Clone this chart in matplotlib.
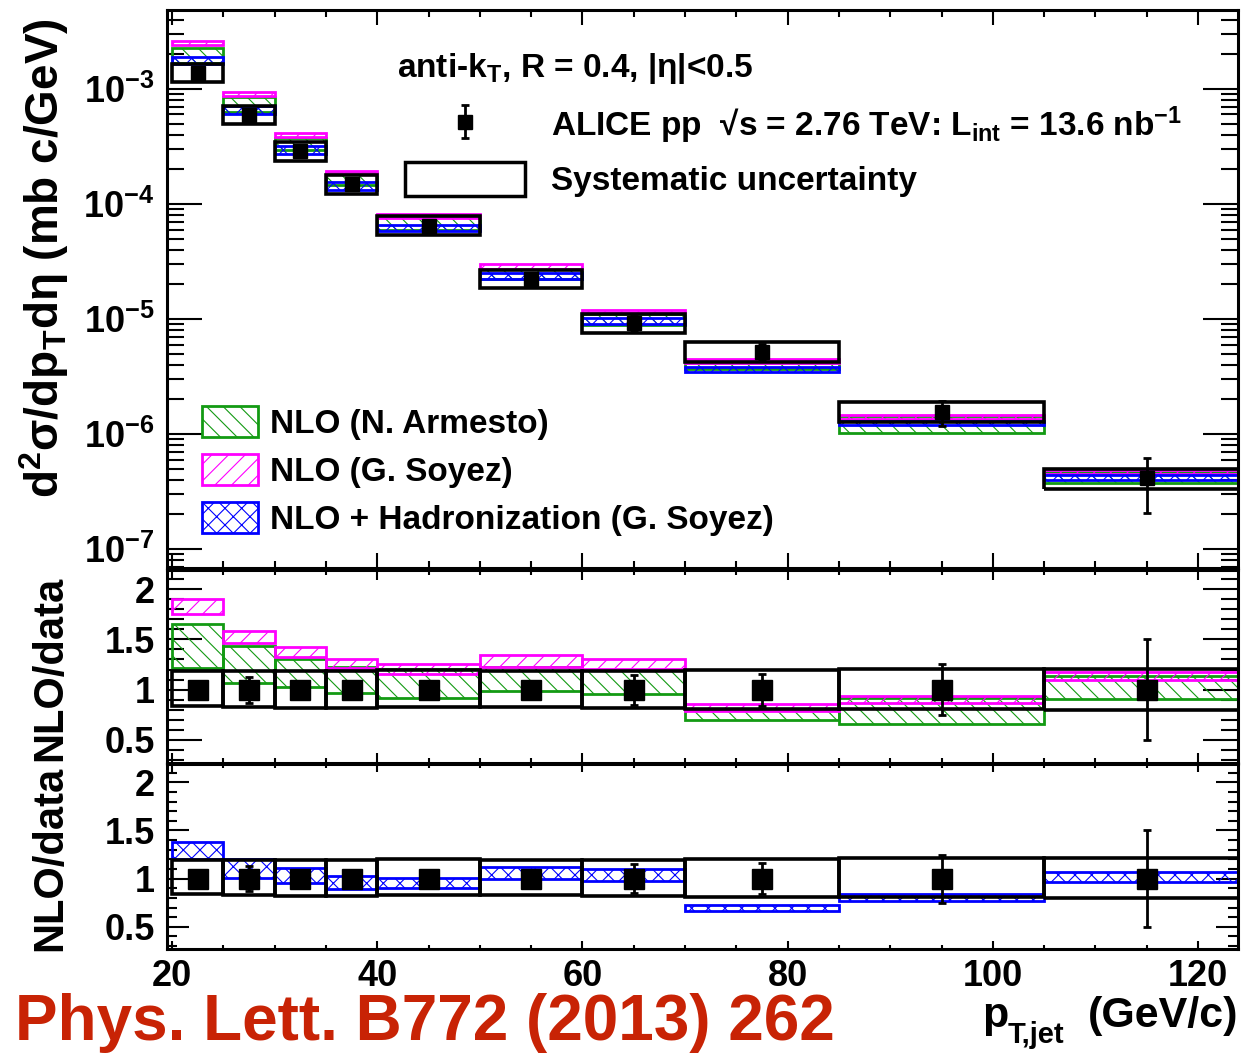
import numpy as np
import matplotlib
matplotlib.use("Agg")
import matplotlib.pyplot as plt
from matplotlib.patches import Patch
from matplotlib.ticker import LogLocator, MultipleLocator, FuncFormatter, NullFormatter

plt.rcParams['font.family'] = ['Liberation Sans', 'DejaVu Sans']
plt.rcParams['font.weight'] = 'bold'
plt.rcParams['mathtext.fontset'] = 'custom'
plt.rcParams['mathtext.rm'] = 'Liberation Sans:bold'
plt.rcParams['mathtext.it'] = 'Liberation Sans:bold'
plt.rcParams['mathtext.bf'] = 'Liberation Sans:bold'
plt.rcParams['mathtext.default'] = 'rm'
plt.rcParams['hatch.linewidth'] = 0.8

# ---- jet pT bins (GeV/c)
edges = np.array([20, 25, 30, 35, 40, 50, 60, 70, 85, 105, 125])
bin_lo = edges[:-1]
bin_w = np.diff(edges)
bin_c = bin_lo + bin_w / 2.

# ---- measured cross section (mb c/GeV) and relative uncertainties
xsec = np.array([1.38e-3, 5.94e-4, 2.89e-4, 1.50e-4, 6.50e-5,
                 2.23e-5, 9.23e-6, 5.21e-6, 1.56e-6, 4.12e-7])
stat = np.array([0.03, 0.13, 0.05, 0.06, 0.04, 0.05, 0.15, 0.16, 0.25, 0.50])
syst_up = np.array([0.19, 0.19, 0.19, 0.19, 0.20, 0.19, 0.19, 0.20, 0.21, 0.21])
syst_dn = np.array([0.16, 0.17, 0.18, 0.18, 0.17, 0.17, 0.18, 0.19, 0.19, 0.20])

# ---- theory / data bands (low, high)
arm_lo = np.array([1.22, 1.07, 1.03, 0.97, 0.92, 0.99, 0.96, 0.70, 0.66, 0.91])
arm_hi = np.array([1.65, 1.43, 1.30, 1.23, 1.21, 1.23, 1.20, 0.80, 0.92, 1.14])
soy_lo = np.array([1.75, 1.46, 1.32, 1.22, 1.16, 1.23, 1.21, 0.79, 0.87, 1.10])
soy_hi = np.array([1.90, 1.58, 1.42, 1.30, 1.25, 1.34, 1.30, 0.86, 0.94, 1.18])
had_lo = np.array([1.20, 1.01, 0.95, 0.89, 0.90, 1.00, 0.98, 0.66, 0.77, 0.97])
had_hi = np.array([1.38, 1.20, 1.11, 1.03, 1.01, 1.12, 1.10, 0.73, 0.84, 1.07])

green = '#139a13'
magenta = '#ff00ff'
blue = '#0000ff'

W, H = 1245, 1053
fig = plt.figure(figsize=(W / 100, H / 100), dpi=100)


def rect(l, t, r, b):
    return [l / W, 1 - b / H, (r - l) / W, (b - t) / H]


ax1 = fig.add_axes(rect(167, 10, 1238, 568))
ax2 = fig.add_axes(rect(167, 570, 1238, 763))
ax3 = fig.add_axes(rect(167, 764, 1238, 949))


def band(ax, lo, hi, col, hatch, scale=1.0, z=2):
    ax.bar(bin_lo, (hi - lo) * scale, width=bin_w, bottom=lo * scale, align='edge',
           fill=False, edgecolor=col, hatch=hatch, linewidth=2.0, zorder=z)


def syst_boxes(ax, scale=1.0):
    ax.bar(bin_lo, (syst_up + syst_dn) * scale, width=bin_w, bottom=(1 - syst_dn) * scale,
           align='edge', fill=False, edgecolor='k', linewidth=2.6, zorder=4)


# ---- spectrum
ax1.set_yscale('log')
band(ax1, arm_lo, arm_hi, green, '\\\\', xsec, 2)
band(ax1, soy_lo, soy_hi, magenta, '//', xsec, 2.1)
band(ax1, had_lo, had_hi, blue, 'xx', xsec, 2.2)
syst_boxes(ax1, xsec)
dat = ax1.errorbar(bin_c, xsec, yerr=xsec * stat, fmt='s', ms=10, color='k',
                   elinewidth=2, capsize=3, capthick=2, zorder=5)

# ---- NLO / data
band(ax2, arm_lo, arm_hi, green, '\\\\', z=2)
band(ax2, soy_lo, soy_hi, magenta, '//', z=2.1)
syst_boxes(ax2)
ax2.errorbar(bin_c, np.ones_like(stat), yerr=stat, fmt='s', ms=14, color='k',
             elinewidth=2, capsize=3, capthick=2, zorder=5)

# ---- NLO+hadronization / data
band(ax3, had_lo, had_hi, blue, 'xx', z=2)
syst_boxes(ax3)
ax3.errorbar(bin_c, np.ones_like(stat), yerr=stat, fmt='s', ms=14, color='k',
             elinewidth=2, capsize=3, capthick=2, zorder=5)

# ---- axes cosmetics
for ax in (ax1, ax2, ax3):
    ax.set_xlim(19.5, 123.9)
    ax.xaxis.set_major_locator(MultipleLocator(20))
    ax.xaxis.set_minor_locator(MultipleLocator(5))
    for s in ax.spines.values():
        s.set_linewidth(2.2)
    ax.tick_params(which='both', direction='in', top=True, right=True, width=1.5,
                   labelsize=26, pad=9)

ax1.set_ylim(6.84e-8, 4.86e-3)
ax1.yaxis.set_major_locator(LogLocator(base=10, numticks=20))
ax1.yaxis.set_minor_locator(LogLocator(base=10, subs=np.arange(2, 10), numticks=20))
ax1.yaxis.set_major_formatter(FuncFormatter(lambda v, p: r'$10^{%d}$' % round(np.log10(v))))
ax1.yaxis.set_minor_formatter(NullFormatter())
ax1.tick_params(axis='y', which='major', length=25)
ax1.tick_params(axis='y', which='minor', length=12)
ax1.tick_params(axis='x', which='major', length=11, labelbottom=False)
ax1.tick_params(axis='x', which='minor', length=5)

for ax, ymaj, ymin, xmaj, xmin in ((ax2, 25, 12, 7, 3.5), (ax3, 16, 7, 6, 3)):
    ax.set_ylim(0.27, 2.19)
    ax.yaxis.set_major_locator(MultipleLocator(0.5))
    ax.yaxis.set_minor_locator(MultipleLocator(0.1))
    ax.yaxis.set_major_formatter(FuncFormatter(lambda v, p: '%g' % v))
    ax.tick_params(axis='y', which='major', length=ymaj)
    ax.tick_params(axis='y', which='minor', length=ymin)
    ax.tick_params(axis='x', which='major', length=xmaj)
    ax.tick_params(axis='x', which='minor', length=xmin)
ax2.tick_params(axis='x', labelbottom=False)
ax3.tick_params(axis='x', pad=7)

# ---- legends
h_arm = Patch(facecolor='none', edgecolor=green, hatch='\\\\', linewidth=2)
h_soy = Patch(facecolor='none', edgecolor=magenta, hatch='//', linewidth=2)
h_had = Patch(facecolor='none', edgecolor=blue, hatch='xx', linewidth=2)
leg_nlo = ax1.legend([h_arm, h_soy, h_had],
                     ['NLO (N. Armesto)', 'NLO (G. Soyez)', 'NLO + Hadronization (G. Soyez)'],
                     loc='upper left', bbox_to_anchor=(202 / W, 1 - 406 / H),
                     bbox_transform=fig.transFigure, frameon=False, fontsize=24,
                     handlelength=1.68, handleheight=1.05, handletextpad=0.36,
                     labelspacing=0.42, borderpad=0, borderaxespad=0)
ax1.add_artist(leg_nlo)

h_sys = Patch(facecolor='white', edgecolor='k', linewidth=2.5)
ax1.legend([dat, h_sys],
           [r'ALICE pp  √s = 2.76 TeV: L$_{int}$ = 13.6 nb$^{-1}$', 'Systematic uncertainty'],
           loc='upper left', bbox_to_anchor=(405 / W, 1 - 104 / H),
           bbox_transform=fig.transFigure, frameon=False, fontsize=24,
           handlelength=3.6, handleheight=1.17, handletextpad=0.78,
           labelspacing=0.5, borderpad=0, borderaxespad=0)

fig.text(397 / W, 1 - 77 / H, r'anti-k$_{T}$, R = 0.4, |η|<0.5', fontsize=24, va='baseline')

# ---- axis titles
fig.text(44 / W, 1 - 258 / H, r'd$^{2}$σ/dp$_{T}$dη (mb c/GeV)', rotation=90,
         ha='center', va='center', fontsize=33)
fig.text(50 / W, 1 - 668 / H, 'NLO/data', rotation=90, ha='center', va='center', fontsize=30)
fig.text(50 / W, 1 - 858 / H, 'NLO/data', rotation=90, ha='center', va='center', fontsize=30)

fig.text(982 / W, 1 - 1027 / H, 'p', fontsize=31, va='baseline')
fig.text(1008 / W, 1 - 1043 / H, 'T,jet', fontsize=21, va='baseline')
fig.text(1238 / W, 1 - 1027 / H, '(GeV/c)', fontsize=31, va='baseline', ha='right')

fig.text(15 / W, 1 - 1040 / H, 'Phys. Lett. B772 (2013) 262', fontsize=46,
         color='#c82305', va='baseline')

fig.savefig('out.png', dpi=100)
